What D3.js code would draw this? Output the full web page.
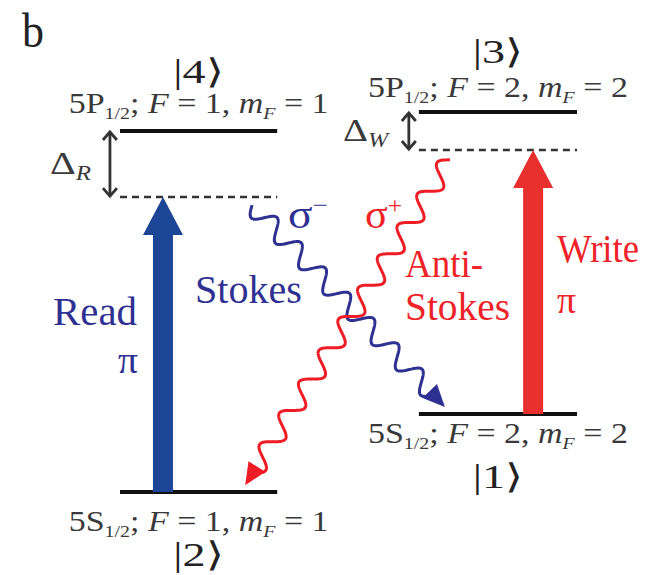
<!DOCTYPE html>
<meta charset="utf-8">
<style>
body { margin: 0; background: #fff; }
text { font-family: 'Liberation Serif', 'Times New Roman', serif; }
</style>
<body>
<svg width="660" height="575"></svg>
<script src="https://cdn.jsdelivr.net/npm/d3@7"></script>
<script>

// energy levels (energy in arbitrary units, x in % of the diagram width)
var levelKets   = ["1", "2", "3", "4"];
var levelTerms  = ["5S", "5S", "5P", "5P"];
var levelF      = [2, 1, 2, 1];
var levelMF     = [2, 1, 2, 1];
var levelEnergy = [20.5, 0, 100, 95];
var levelX0     = [65.4, 0, 65.4, 0];
var levelX1     = [100, 34.4, 100, 34.4];

// virtual levels reached by the read / write pulses
var virtualEnergy = [77.6, 90];
var virtualX0     = [0, 65.4];
var virtualX1     = [34.4, 100];

// pump pulses
var pumpNames  = ["Read", "Write"];
var pumpX      = [9.4, 90.4];
var pumpFrom   = [0, 20.5];
var pumpTo     = [77.6, 90];

// detunings
var detuneNames = ["R", "W"];
var detuneX     = [-2.2, 63.2];
var detuneLow   = [77.6, 90];
var detuneHigh  = [95, 100];

// scattered photons
var photonNames = ["Stokes", "Anti-Stokes"];
var photonPol   = ["\u2212", "+"];
var photonX0    = [28.9, 72.2];
var photonE0    = [75.5, 87.4];
var photonX1    = [71.1, 27.4];
var photonE1    = [22.4, 1.8];

var svg = d3.select("svg");

var x = d3.scaleLinear().domain([0, 100]).range([120, 577]);
var y = d3.scaleLinear().domain([0, 100]).range([492, 112]);

var gray = "#3a3a3a",
    blueText = "#2e3192", blueFill = "#1c4596",
    redText = "#ee2227", redFill = "#e8302e";
var pumpColor = [blueFill, redFill];
var photonColor = ["#2e3192", "#ee1c25"];
var textColor = [blueText, redText];

// squeeze / stretch a text group to a given width
function fit(g, w) {
  var bb = g.select("text").node().getBBox();
  var k = w / bb.width;
  g.attr("transform", g.attr("transform") + " scale(" + k + ",1)");
}

// ---- levels ----
var levels = levelKets.map(function(k, i) {
  return {ket: k, term: levelTerms[i], F: levelF[i], mF: levelMF[i],
          E: levelEnergy[i], x0: levelX0[i], x1: levelX1[i]};
});

svg.selectAll("line.level")
  .data(levels)
  .enter().append("line")
  .attr("class", "level")
  .attr("x1", d => x(d.x0)).attr("x2", d => x(d.x1))
  .attr("y1", d => y(d.E)).attr("y2", d => y(d.E))
  .attr("stroke", "#111").attr("stroke-width", 4);

svg.selectAll("line.virtual")
  .data(virtualEnergy)
  .enter().append("line")
  .attr("class", "virtual")
  .attr("x1", (d, i) => x(virtualX0[i])).attr("x2", (d, i) => x(virtualX1[i]))
  .attr("y1", d => y(d)).attr("y2", d => y(d))
  .attr("stroke", "#333").attr("stroke-width", 2.5)
  .attr("stroke-dasharray", "7,5");

// label offsets from the level line (layout)
var labelDy = [29, 39, -15, -18],
    ketDy   = [74, 74, -49, -48];

levels.forEach(function(d, i) {
  var cx = (x(d.x0) + x(d.x1)) / 2;
  var g = svg.append("g")
    .attr("transform", "translate(" + cx + "," + (y(d.E) + labelDy[i]) + ")");
  var t = g.append("text").attr("text-anchor", "middle")
    .attr("font-size", 29).attr("fill", gray);
  t.append("tspan").text(d.term);
  t.append("tspan").attr("font-size", 17).attr("dy", 6).text("1/2");
  t.append("tspan").attr("dy", -6).text("; ");
  t.append("tspan").attr("font-style", "italic").text("F");
  t.append("tspan").text(" = " + d.F + ", ");
  t.append("tspan").attr("font-style", "italic").text("m");
  t.append("tspan").attr("font-style", "italic").attr("font-size", 17).attr("dy", 6).text("F");
  t.append("tspan").attr("dy", -6).text(" = " + d.mF);
  fit(g, 260);

  var gk = svg.append("g")
    .attr("transform", "translate(" + cx + "," + (y(d.E) + ketDy[i]) + ")");
  gk.append("text").attr("text-anchor", "middle")
    .attr("font-size", 34).attr("fill", "#222")
    .text("|" + d.ket + "\u27E9");
  fit(gk, 50);
});

// ---- pump arrows ----
var shaftW = 20, headW = 40, headL = 38;
pumpNames.forEach(function(name, i) {
  var cx = x(pumpX[i]), yb = y(pumpFrom[i]), yt = y(pumpTo[i]);
  var p = d3.path();
  p.moveTo(cx - shaftW / 2, yb);
  p.lineTo(cx - shaftW / 2, yt + headL);
  p.lineTo(cx - headW / 2, yt + headL);
  p.lineTo(cx, yt);
  p.lineTo(cx + headW / 2, yt + headL);
  p.lineTo(cx + shaftW / 2, yt + headL);
  p.lineTo(cx + shaftW / 2, yb);
  p.closePath();
  svg.append("path").attr("d", p.toString()).attr("fill", pumpColor[i]);
});

// ---- detuning double arrows ----
detuneNames.forEach(function(name, i) {
  var cx = x(detuneX[i]), y1 = y(detuneHigh[i]) + 1, y2 = y(detuneLow[i]) - 1;
  var g = svg.append("g").attr("stroke", "#333").attr("stroke-width", 2.8)
    .attr("fill", "none");
  g.append("line").attr("x1", cx).attr("x2", cx).attr("y1", y1).attr("y2", y2);
  g.append("path").attr("d", "M" + (cx - 7) + "," + (y1 + 8) + "L" + cx + "," + y1 + "L" + (cx + 7) + "," + (y1 + 8));
  g.append("path").attr("d", "M" + (cx - 7) + "," + (y2 - 8) + "L" + cx + "," + y2 + "L" + (cx + 7) + "," + (y2 - 8));
});

// delta labels
[[50, 174, 41], [343, 141, 48]].forEach(function(pos, i) {
  var g = svg.append("g").attr("transform", "translate(" + pos[0] + "," + pos[1] + ")");
  var t = g.append("text").attr("font-size", 32).attr("fill", gray);
  t.append("tspan").text("\u0394");
  t.append("tspan").attr("font-style", "italic").attr("font-size", 20).attr("dy", 6).text(detuneNames[i]);
  fit(g, pos[2]);
});

// ---- photons (wavy arrows) ----
function wave(x0, y0, x1, y1, amp, lambda, hl) {
  var dx = x1 - x0, dy = y1 - y0, L = Math.hypot(dx, dy),
      ux = dx / L, uy = dy / L, nx = -uy, ny = ux, pts = [];
  for (var s = 0; s <= L - hl; s += 0.5) {
    var o = amp * Math.sin(2 * Math.PI * s / lambda);
    pts.push([x0 + ux * s + nx * o, y0 + uy * s + ny * o]);
  }
  return pts;
}

var waveLambda = [35, 37];
photonNames.forEach(function(name, i) {
  var x0 = x(photonX0[i]), y0 = y(photonE0[i]), x1 = x(photonX1[i]), y1 = y(photonE1[i]);
  var pts = wave(x0, y0, x1, y1, 9.5, waveLambda[i], 18);
  svg.append("path")
    .attr("d", d3.line()(pts))
    .attr("fill", "none").attr("stroke", photonColor[i]).attr("stroke-width", 3);
  var L = Math.hypot(x1 - x0, y1 - y0), ux = (x1 - x0) / L, uy = (y1 - y0) / L;
  var bx = x1 - ux * 22, by = y1 - uy * 22;
  svg.append("path")
    .attr("d", "M" + x1 + "," + y1 + "L" + (bx - uy * 10) + "," + (by + ux * 10) +
               "L" + (bx + uy * 10) + "," + (by - ux * 10) + "Z")
    .attr("fill", photonColor[i]);
});

// ---- text labels (layout positions) ----
function label(str, px, py, w, color, size) {
  var g = svg.append("g").attr("transform", "translate(" + px + "," + py + ")");
  g.append("text").attr("font-size", size || 40).attr("fill", color).text(str);
  fit(g, w);
  return g;
}

label(pumpNames[0], 53, 325, 84, textColor[0]);
label("\u03C0", 118, 373, 20, textColor[0], 38);
label(photonNames[0], 195, 303, 107, textColor[0]);
label("Anti-", 405, 277, 78, textColor[1]);
label("Stokes", 405, 320, 105, textColor[1]);
label(pumpNames[1], 557, 262, 82, textColor[1]);
label("\u03C0", 557, 313, 19, textColor[1], 38);

// polarisations
[[288, 228, 40], [365, 228, 37]].forEach(function(pos, i) {
  var g = svg.append("g").attr("transform", "translate(" + pos[0] + "," + pos[1] + ")");
  var t = g.append("text").attr("font-size", 40).attr("fill", textColor[i]);
  t.append("tspan").text("\u03C3");
  t.append("tspan").attr("font-size", 24).attr("dy", -15).text(photonPol[i]);
  fit(g, pos[2]);
});

// panel letter
var gb = svg.append("g").attr("transform", "translate(22,47)");
gb.append("text").attr("font-family", "'Open Sans', 'Liberation Sans', sans-serif")
  .attr("font-size", 48).attr("fill", "#222").text("b");
fit(gb, 22);

</script>
</body>
